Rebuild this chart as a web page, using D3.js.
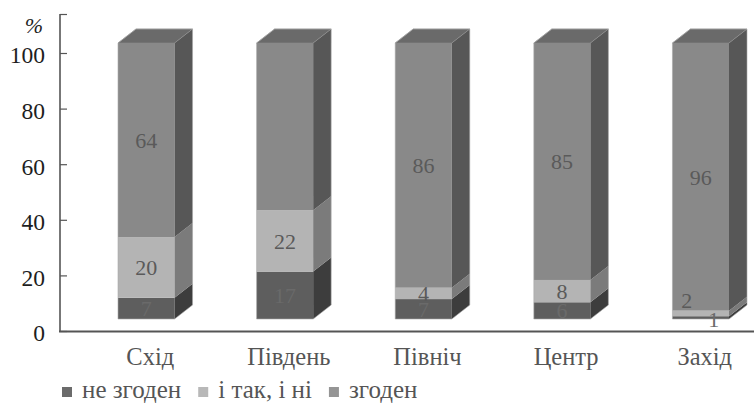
<!DOCTYPE html>
<html>
<head>
<meta charset="utf-8">
<script src="https://cdn.jsdelivr.net/npm/d3@7/dist/d3.min.js"></script>
<style>
  html, body { margin: 0; padding: 0; background: #fff; }
</style>
</head>
<body>
<svg id="chart" width="754" height="403"></svg>
<script>
// Regions and the share of answers in each (values as published, %)
const categories = ["Схід", "Південь", "Північ", "Центр", "Захід"];
const seriesNames = ["не згоден", "і так, і ні", "згоден"];
const disagree = [7, 17, 7, 6, 1];
const neutral  = [20, 22, 4, 8, 2];
const agree    = [64, 60, 86, 85, 96];
const yTicks = [0, 20, 40, 60, 80, 100];
// the "згоден" figure for Південь is not printed on the chart
const hiddenLabels = [["Південь", "згоден"]];

const series = [disagree, neutral, agree];

const FONT = "Liberation Serif";

// front, side and legend shades for each series
const frontFill = ["#5e5e5e", "#b4b4b4", "#898989"];
const sideFill  = ["#3d3d3d", "#7b7b7b", "#575757"];
const topFill   = "#6a6a6a";
const legendFill = ["#6b6b6b", "#b8b8b8", "#959595"];

const svg = d3.select("#chart");

// depth of the 3-D columns
const dx = 18, dy = -14;

// value axis (drawn on the wall) and column scale (front faces)
const yAxisScale = d3.scaleLinear().domain([0, 100]).range([331, 53]);
const yBar = d3.scaleLinear().domain([0, 100]).range([319, 43]);
const x = d3.scaleBand().domain(categories).range([118, 729]).paddingInner(0.592).paddingOuter(0);

// 100% stacked: each region's answers are scaled to their own total
const rows = categories.map((c, i) => {
  const vals = series.map(s => s[i]);
  const total = d3.sum(vals);
  let acc = 0;
  return vals.map((v, k) => {
    const y0 = acc / total * 100;
    acc += v;
    const y1 = acc / total * 100;
    return { cat: c, k, v, y0, y1 };
  });
});

const axisColor = "#555";

// frame
svg.append("line")
  .attr("x1", 60).attr("x2", 60)
  .attr("y1", 14).attr("y2", yAxisScale(0) + 1)
  .attr("stroke", axisColor).attr("stroke-width", 1.6);
svg.append("line")
  .attr("x1", 60).attr("x2", 67)
  .attr("y1", 14.5).attr("y2", 14.5)
  .attr("stroke", axisColor).attr("stroke-width", 1.2);
svg.append("line")
  .attr("x1", 59).attr("x2", 754)
  .attr("y1", yAxisScale(0) + 0.5).attr("y2", yAxisScale(0) + 0.5)
  .attr("stroke", axisColor).attr("stroke-width", 2);

// value axis ticks and labels
const yAxis = svg.append("g")
  .attr("transform", "translate(60,0)")
  .call(d3.axisLeft(yAxisScale).tickValues(yTicks).tickSizeInner(-7).tickSizeOuter(0).tickPadding(15));
yAxis.select(".domain").remove();
yAxis.selectAll(".tick line").attr("stroke", axisColor).attr("stroke-width", 1.2);
yAxis.selectAll(".tick text")
  .style("font-family", FONT)
  .attr("font-size", 23.5)
  .attr("fill", "#1e1e1e")
  .attr("dy", "0.42em");

svg.append("text")
  .attr("x", 34).attr("y", 33)
  .attr("text-anchor", "middle")
  .style("font-family", FONT)
  .attr("font-size", 22)
  .attr("font-style", "italic")
  .attr("fill", "#1e1e1e")
  .text("%");

// columns
const bars = svg.append("g");
const labels = svg.append("g");
rows.forEach(segs => {
  const x0 = x(segs[0].cat);
  const x1 = x0 + x.bandwidth();
  const g = bars.append("g");
  segs.forEach(s => {
    const yt = yBar(s.y1), yb = yBar(s.y0);
    g.append("rect")
      .attr("x", x0).attr("y", yt)
      .attr("width", x1 - x0).attr("height", yb - yt)
      .attr("fill", frontFill[s.k]);
    g.append("path")
      .attr("d", `M${x1},${yt}L${x1 + dx},${yt + dy}L${x1 + dx},${yb + dy}L${x1},${yb}Z`)
      .attr("fill", sideFill[s.k]);
  });
  const last = segs[segs.length - 1];
  const yt = yBar(last.y1);
  g.append("path")
    .attr("d", `M${x0},${yt}L${x0 + dx},${yt + dy}L${x1 + dx},${yt + dy}L${x1},${yt}Z`)
    .attr("fill", topFill)
    .attr("stroke", "#8c8c8c").attr("stroke-width", 0.6);
  // light outline round the column
  g.append("path")
    .attr("d", `M${x0},${yBar(0)}L${x0},${yt}L${x0 + dx},${yt + dy}L${x1 + dx},${yt + dy}L${x1 + dx},${yBar(0) + dy}L${x1},${yBar(0)}Z`)
    .attr("fill", "none")
    .attr("stroke", "#a8a8a8").attr("stroke-width", 0.6);

  // value labels
  segs.forEach(s => {
    if (hiddenLabels.some(h => h[0] === s.cat && h[1] === seriesNames[s.k])) return;
    const yt2 = yBar(s.y1), yb2 = yBar(s.y0);
    let cx = (x0 + x1) / 2, cy = (yt2 + yb2) / 2;
    // very thin slices: nudge the figure clear of its neighbour
    if (yb2 - yt2 < 8) {
      if (s.k === 0) { cx += 13; cy += 2; }
      else { cx -= 14; cy -= 13; }
    }
    labels.append("text")
      .attr("x", cx).attr("y", cy)
      .attr("dy", "0.35em")
      .attr("text-anchor", "middle")
      .style("font-family", FONT)
      .attr("font-size", 22)
      .attr("fill", s.k === 0 ? "#6a6a6a" : "#5a5a5a")
      .text(s.v);
  });
});

// category labels
svg.append("g").selectAll("text")
  .data(categories)
  .join("text")
  .attr("x", d => x(d) + x.bandwidth() / 2 + 4)
  .attr("y", 365)
  .attr("text-anchor", "middle")
  .style("font-family", FONT)
  .attr("font-size", 24.5)
  .attr("fill", "#555")
  .text(d => d);

// legend
const legend = svg.append("g");
let lx = 62;
seriesNames.forEach((name, k) => {
  legend.append("rect")
    .attr("x", lx).attr("y", 387)
    .attr("width", 10).attr("height", 10)
    .attr("fill", legendFill[k]);
  const t = legend.append("text")
    .attr("x", lx + 20).attr("y", 398)
    .style("font-family", FONT)
    .attr("font-size", 25)
    .attr("fill", "#555")
    .text(name);
  lx += 20 + t.node().getComputedTextLength() + 17;
});
</script>
</body>
</html>
